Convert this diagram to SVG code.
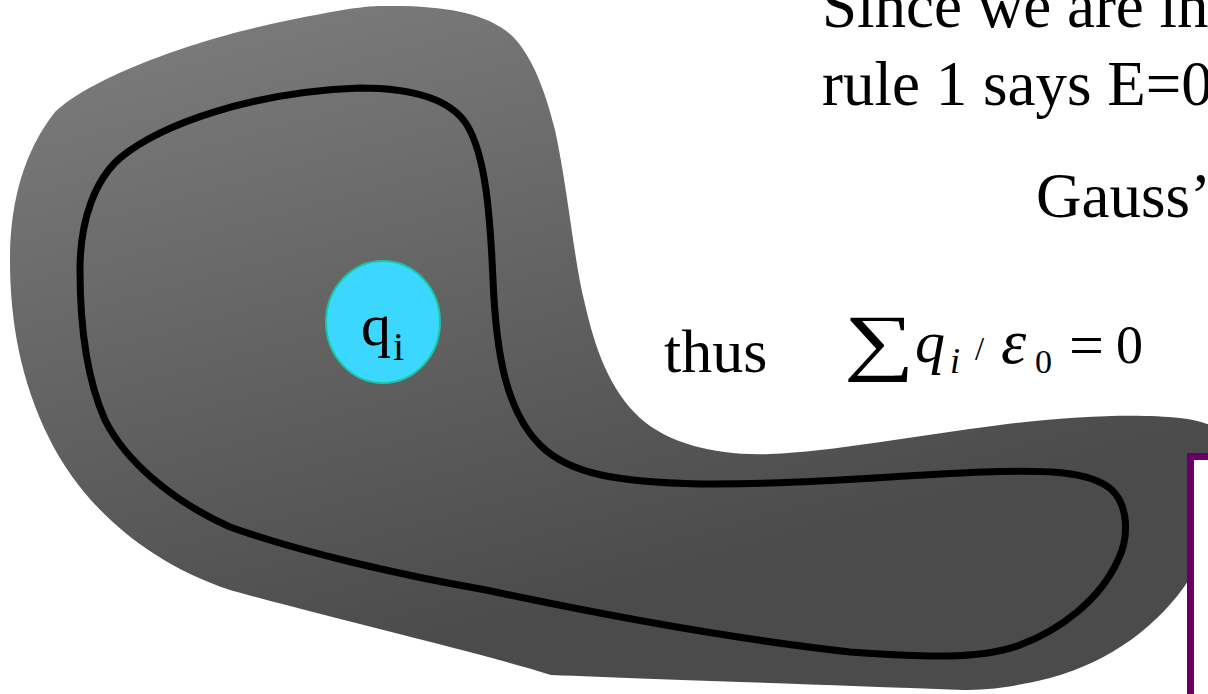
<svg xmlns="http://www.w3.org/2000/svg" width="1208" height="694" viewBox="0 0 1208 694">
<defs>
<linearGradient id="grey" gradientUnits="userSpaceOnUse" x1="200" y1="0" x2="380" y2="660">
<stop offset="0" stop-color="#7c7c7c"/>
<stop offset="1" stop-color="#4b4b4b"/>
</linearGradient>
<style>
.t{font-family:"Liberation Serif","Times New Roman",serif;fill:#000}
.i{font-style:italic}
</style>
</defs>
<rect width="1208" height="694" fill="#fff"/>
<g id="conductor">
<path fill="url(#grey)" d="M 383,6 C 440,5 480,12 505,30 C 530,48 545,90 555,130 C 568,190 574,260 584,300 C 595,350 610,390 640,418 C 670,445 720,456 770,454 C 830,452 920,435 1000,425 C 1080,415 1140,414 1180,418 C 1220,422 1240,440 1235,470 L 1215,560 L 1190,578 C 1160,625 1110,662 1050,678 C 1010,688 985,690 963,690 C 800,684 650,679 551,675 C 470,650 330,618 230,590 C 140,560 80,500 50,440 C 20,380 10,320 10,260 C 10,200 25,150 55,112 C 95,75 200,38 290,20 C 330,12 360,6 383,6 Z"/>
</g>
<g id="gaussian-surface">
<path fill="none" stroke="#000" stroke-width="7" stroke-linejoin="round" d="M 360,88 C 410,88 450,98 467,125 C 485,155 490,210 493,280 C 496,350 505,410 540,445 C 570,475 620,482 700,484 C 800,485 900,475 983,472 C 1040,470 1090,470 1112,490 C 1130,508 1128,540 1118,560 C 1100,600 1060,630 1020,645 C 980,660 920,657 850,652 C 760,642 650,625 486,590 C 400,575 300,552 230,527 C 170,500 125,460 105,420 C 85,375 80,320 80,270 C 80,220 95,180 120,158 C 160,125 250,92 360,88 Z"/>
</g>
<g id="charge">
<ellipse cx="383" cy="322" rx="57" ry="61" fill="#3cd7ff" stroke="#19c7a0" stroke-width="2"/>
<text class="t" x="361" y="345" font-size="60">q</text>
<text class="t" x="393" y="360" font-size="40">i</text>
</g>
<g id="box">
<rect x="1190.5" y="456.5" width="100" height="300" fill="#fff" stroke="#660066" stroke-width="7"/>
</g>
<g id="text">
<text class="t" x="822" y="27" font-size="63">Since we are in</text>
<text class="t" x="822" y="105" font-size="63">rule 1 says E=0</text>
<text class="t" x="1036" y="217" font-size="63">Gauss’</text>
<text class="t" x="664" y="372" font-size="62">thus</text>
</g>
<g id="equation">
<text class="t" transform="translate(844,366) scale(1.34,1)" x="0" y="0" font-size="74">∑</text>
<text class="t i" x="915" y="362" font-size="60">q</text>
<text class="t i" x="950" y="373" font-size="36">i</text>
<text class="t" x="975" y="360" font-size="33">/</text>
<text class="t i" x="1001" y="363" font-size="64">ε</text>
<text class="t" x="1035" y="373" font-size="34">0</text>
<text class="t" x="1069" y="366" font-size="62">=</text>
<text class="t" x="1116" y="363" font-size="54">0</text>
</g>
</svg>
